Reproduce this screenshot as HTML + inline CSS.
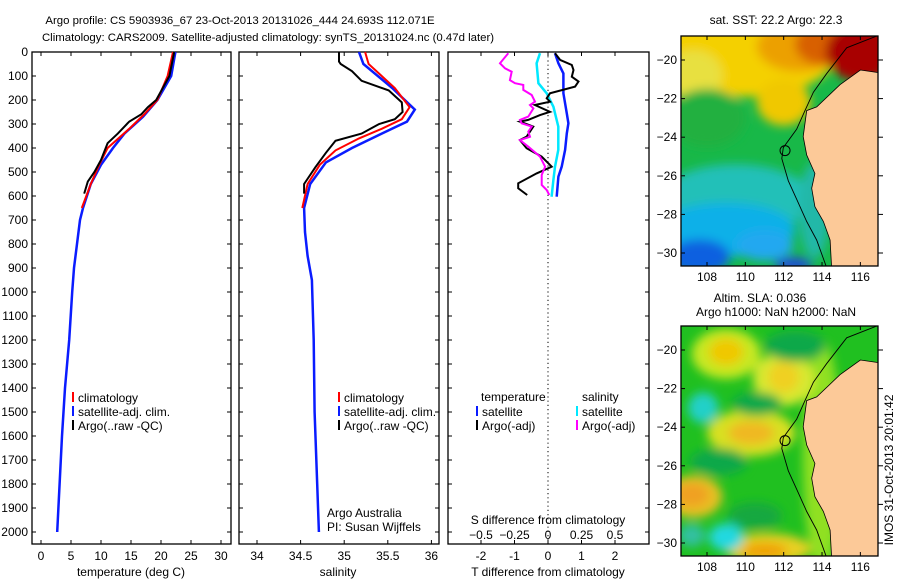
<!DOCTYPE html>
<html><head><meta charset="utf-8"><style>
html,body{margin:0;padding:0;background:#fff;}
svg{display:block;font-family:"Liberation Sans",sans-serif;}
</style></head><body>
<svg id="c" width="900" height="580" viewBox="0 0 900 580" xmlns="http://www.w3.org/2000/svg">
<defs>
<filter id="bl" x="-20%" y="-20%" width="140%" height="140%"><feGaussianBlur stdDeviation="5"/></filter>
<clipPath id="cm1"><rect x="681" y="36" width="197" height="230"/></clipPath>
<clipPath id="cm2"><rect x="681" y="326" width="197" height="230"/></clipPath>
</defs>
<text x="240" y="24" font-size="11.4" text-anchor="middle">Argo profile: CS 5903936_67 23-Oct-2013 20131026_444 24.693S 112.071E</text>
<text x="268" y="41" font-size="11.4" text-anchor="middle">Climatology: CARS2009. Satellite-adjusted climatology: synTS_20131024.nc (0.47d later)</text>
<text x="776" y="24" font-size="12" text-anchor="middle">sat. SST: 22.2 Argo: 22.3</text>
<text x="760" y="302" font-size="12" text-anchor="middle">Altim. SLA: 0.036</text>
<text x="776" y="316" font-size="12" text-anchor="middle">Argo h1000: NaN h2000: NaN</text>
<text transform="translate(893,470) rotate(-90)" font-size="12" text-anchor="middle">IMOS 31-Oct-2013 20:01:42</text>
<g id="g"></g>
</svg>
<script>
// ---- data ----
const depthTicks=[0,100,200,300,400,500,600,700,800,900,1000,1100,1200,1300,1400,1500,1600,1700,1800,1900,2000];
const tempTicks=[0,5,10,15,20,25,30];
const salTicks=[34,34.5,35,35.5,36];
const tdiffTicks=[-2,-1,0,1,2];
const sdiffTicks=[-0.5,-0.25,0,0.25,0.5];
const tempClimDepth=[0,100,200,260,320,400,470,550,650];
const tempClim=[22,21.1,19.4,17.2,14.7,11.1,9.7,8.3,6.8];
const tempSatDepth=[0,100,200,270,340,400,470,550,650,700,800,900,1000,1200,1400,1600,1800,2000];
const tempSat=[22.4,21.7,19.4,17,13.9,12,10,8.3,7,6.5,6,5.5,5.2,4.7,4.0,3.5,3.1,2.7];
const tempArgoDepth=[0,100,200,230,260,290,340,380,450,500,540,590];
const tempArgo=[22.2,21.4,19.2,17.8,16.7,14.7,12.8,11.1,10,8.9,7.8,7.2];
const salClimDepth=[0,50,150,230,280,320,360,410,470,550,650];
const salClim=[35.24,35.28,35.58,35.75,35.66,35.43,35.17,34.9,34.72,34.58,34.52];
const salSatDepth=[0,50,150,240,290,340,400,460,550,650,750,850,950,1200,1500,1800,2000];
const salSat=[35.17,35.22,35.55,35.81,35.72,35.43,35.09,34.79,34.61,34.54,34.55,34.58,34.63,34.65,34.66,34.69,34.71];
const salArgoDepth=[0,40,50,80,120,160,210,250,280,300,340,370,420,480,550,590];
const salArgo=[34.94,34.94,34.96,35.09,35.2,35.51,35.66,35.67,35.58,35.4,35.2,34.9,34.79,34.67,34.54,34.54];
const tdSatDepth=[5,47,89,172,256,297,339,408,478,519,603];
const tdSat=[0.21,0.31,0.46,0.46,0.56,0.61,0.56,0.51,0.41,0.31,0.26];
const sdSatDepth=[5,47,130,172,228,311,408,478,533,603];
const sdSat=[-0.06,-0.085,-0.072,-0.01,0.04,0.077,0.077,0.052,0.04,0.027];
const tdArgoDepth=[5,33,54,75,103,123,144,172,193,207,221,249,263,283,290,311,353,367,401,436,478,506,547,568,596];
const tdArgo=[0.21,0.36,0.71,0.76,0.71,0.91,0.81,0.06,-0.04,0.06,-0.39,0.06,-0.24,-0.59,-0.84,-0.44,-0.64,-0.84,-0.64,-0.19,0.11,-0.34,-0.89,-0.89,-0.62];
const sdArgoDepth=[5,47,68,82,117,130,137,158,179,207,221,235,269,283,297,311,332,353,367,394,436,478,512,554,575,596];
const sdArgo=[-0.296,-0.358,-0.321,-0.271,-0.284,-0.246,-0.184,-0.184,-0.122,-0.097,-0.134,-0.109,-0.147,-0.209,-0.197,-0.122,-0.147,-0.134,-0.209,-0.147,-0.06,-0.022,-0.047,-0.047,-0.01,0.01];
const lonTicks=[108,110,112,114,116];
const latTicks=[-20,-22,-24,-26,-28,-30];
const argoLon=112.071, argoLat=-24.693;

// ---- scales ----
const P1={x0:32,x1:231}, P2={x0:239,x1:439}, P3={x0:448,x1:649}, Y0=52, Y1=544;
const dy=d=>52+0.24*d;
const tx=t=>41+6*t;
const sx=s=>257+87.2*(s-34);
const tdx=t=>548+33.5*t;
const sdx=s=>548+134*s;
const lonX=l=>707+(l-108)*19.17;
const latY=(l,off)=>60+(-20-l)*19.3+off;

const NS='http://www.w3.org/2000/svg';
const G=document.getElementById('g');
function mk(tag,at,parent){const e=document.createElementNS(NS,tag);for(const k in at)e.setAttribute(k,at[k]);(parent||G).appendChild(e);return e;}
function txt(x,y,s,at){const e=mk('text',Object.assign({x:x,y:y,'font-size':12},at||{}));e.textContent=s;return e;}

// ---- panels ----
[[P1,'temperature-panel'],[P2,'salinity-panel'],[P3,'difference-panel']].forEach(([p,n])=>{
  const r=mk('rect',{x:p.x0,y:Y0,width:p.x1-p.x0,height:Y1-Y0,fill:'none',stroke:'#000','stroke-width':1.3});
  
  
  depthTicks.forEach(d=>{
    mk('line',{x1:p.x0,x2:p.x0+4,y1:dy(d),y2:dy(d),stroke:'#000'});
    mk('line',{x1:p.x1,x2:p.x1-4,y1:dy(d),y2:dy(d),stroke:'#000'});
  });
});
depthTicks.forEach(d=>{
  const t=txt(28,dy(d)+4,String(d),{'text-anchor':'end'});
  
  
});
function xticks(vals,f,labY,fmt){vals.forEach(v=>{const x=f(v);
  mk('line',{x1:x,x2:x,y1:Y0,y2:Y0+4,stroke:'#000'});
  mk('line',{x1:x,x2:x,y1:Y1,y2:Y1-4,stroke:'#000'});
  if(labY){const t=txt(x,labY,fmt?fmt(v):String(v),{'text-anchor':'middle'});
  
  }});}
xticks(tempTicks,tx,560);
xticks(salTicks,sx,560);
xticks(tdiffTicks,tdx,560);
sdiffTicks.forEach(v=>{const t=txt(sdx(v),539,String(v).replace('-','\u2212'),{'text-anchor':'middle'});
  
  });
[[131,'temperature (deg C)','temperature-axis-title'],[338,'salinity','salinity-axis-title'],[548,'T difference from climatology','t-diff-axis-title']].forEach(([x,s,n])=>{
  const t=txt(x,576,s,{'text-anchor':'middle'});
  
  });
{const t=txt(548,524,'S difference from climatology',{'text-anchor':'middle'});
 
 }
{const l=mk('line',{x1:548,x2:548,y1:Y0,y2:Y1,stroke:'#000','stroke-dasharray':'1.2,3'});
 
 }

function series(ds,vs,fx,color,w,name){
  const pts=ds.map((d,i)=>fx(vs[i]).toFixed(1)+','+dy(d).toFixed(1)).join(' ');
  const e=mk('polyline',{points:pts,fill:'none',stroke:color,'stroke-width':w,'stroke-linejoin':'miter'});
  
  
}
series(tempSatDepth,tempSat,tx,'#0a1cff',2.5,'temp-satellite-line');
series(tempClimDepth,tempClim,tx,'#ff0000',2,'temp-climatology-line');
series(tempArgoDepth,tempArgo,tx,'#000',2,'temp-argo-line');
series(salSatDepth,salSat,sx,'#0a1cff',2.5,'sal-satellite-line');
series(salClimDepth,salClim,sx,'#ff0000',2,'sal-climatology-line');
series(salArgoDepth,salArgo,sx,'#000',2,'sal-argo-line');
series(tdSatDepth,tdSat,tdx,'#0a1cff',2.5,'tdiff-satellite-line');
series(sdSatDepth,sdSat,sdx,'#00e8ff',2.5,'sdiff-satellite-line');
series(tdArgoDepth,tdArgo,tdx,'#000',2,'tdiff-argo-line');
series(sdArgoDepth,sdArgo,sdx,'#ff00ff',2,'sdiff-argo-line');

function leg(x,y,color,s,name){
  const m=mk('rect',{x:x-6,y:y-10,width:2,height:10,fill:color});
  
  
  const t=txt(x,y,s,{});
  
  
}
leg(78,402,'#ff0000','climatology','legend-climatology');
leg(78,416,'#0a1cff','satellite-adj. clim.','legend-satellite');
leg(78,430,'#000','Argo(..raw -QC)','legend-argo');
leg(344,402,'#ff0000','climatology','legend2-climatology');
leg(344,416,'#0a1cff','satellite-adj. clim.','legend2-satellite');
leg(344,430,'#000','Argo(..raw -QC)','legend2-argo');
{const t=txt(481,401,'temperature',{});}
{const t=txt(582,401,'salinity',{});}
leg(482,416,'#0a1cff','satellite','legend-t-satellite');
leg(482,430,'#000','Argo(-adj)','legend-t-argo');
leg(582,416,'#00e8ff','satellite','legend-s-satellite');
leg(582,430,'#ff00ff','Argo(-adj)','legend-s-argo');
{const t=txt(327,517,'Argo Australia',{});}
{const t=txt(327,531,'PI: Susan Wijffels',{});}

// ---- maps ----
const land=[[116.9,-20.65],[116,-20.52],[114.94,-21.28],[113.72,-22.43],[113.2,-22.62],[113.02,-23.97],[113.2,-24.92],[113.63,-25.88],[113.46,-26.65],[113.63,-27.6],[114.07,-28.37],[114.42,-29.33],[114.5,-30.75],[117,-30.75],[117,-20.65]];
const iso=[[116.9,-18.74],[115.29,-19.37],[114.24,-20.71],[113.55,-21.67],[113.11,-22.62],[112.68,-23.58],[111.98,-24.54],[111.9,-25.11],[112.24,-26.26],[112.68,-27.22],[113.2,-28.37],[113.72,-29.33],[114.24,-30.75]];
const blobs1=[[110,-19.6,4.8,2.3,'#f4d000'],[107.3,-20.8,1.5,1.3,'#e8e040'],[112,-22.2,1.4,1.2,'#f0c800'],[112.8,-19.3,2.2,1.3,'#eca000'],[114.2,-19.2,1.6,1.1,'#d86000'],[116,-19.6,1.8,1.5,'#a80000'],[109.5,-27.2,4,1.8,'#20c0b8'],[109,-28.8,3.6,1.4,'#10b0e8'],[107.6,-30.2,1.6,0.9,'#1060e0'],[112.5,-30.6,1,0.4,'#2050d0'],[111,-29.6,1.5,0.8,'#20a8f0'],[113.6,-27.8,0.8,2.5,'#20b8a8'],[108,-23,2,1.5,'#20b040']];
const blobs2=[[114,-25.5,1,6,'#90e020'],[109,-20.2,1.8,1.3,'#c8e820'],[109,-20.1,0.9,0.7,'#f0c800'],[112,-21.5,1.6,1.4,'#d8e830'],[112,-21.4,0.8,0.8,'#f0d020'],[110.3,-24.3,2.3,1.2,'#d8e020'],[110.3,-24.3,1.2,0.6,'#f0b820'],[107.3,-27.6,1.5,1.1,'#e8c020'],[107.2,-27.5,0.9,0.6,'#f0a020'],[111.2,-30.3,2.2,0.8,'#e8d020'],[111,-30.4,1.2,0.4,'#f0a000'],[107.8,-23,0.8,0.8,'#20d0c8'],[109,-29.7,0.9,0.7,'#20d8e0'],[107.2,-29.6,0.7,0.6,'#30c0a0'],[110.6,-22.8,1.3,0.6,'#10a848'],[108.6,-25.8,1.5,0.7,'#10a848'],[110.5,-28.6,1.4,0.7,'#18a840'],[112.6,-19.8,1.6,0.8,'#10a848']];
function map(off,blobs,base,clip,name){
  const g=mk('g',{'clip-path':'url(#'+clip+')'});
  
  
  mk('rect',{x:681,y:36+off,width:197,height:230,fill:base},g);
  const bg=mk('g',{filter:'url(#bl)'},g);
  blobs.forEach(b=>mk('ellipse',{cx:lonX(b[0]),cy:latY(b[1],off),rx:b[2]*19.17,ry:b[3]*19.3,fill:b[4]},bg));
  const lp=mk('polygon',{points:land.map(p=>lonX(p[0]).toFixed(1)+','+latY(p[1],off).toFixed(1)).join(' '),fill:'#fcc998',stroke:'#000','stroke-width':0.8},g);
  
  
  const il=mk('polyline',{points:iso.map(p=>lonX(p[0]).toFixed(1)+','+latY(p[1],off).toFixed(1)).join(' '),fill:'none',stroke:'#000','stroke-width':0.9},g);
  
  
  const c=mk('circle',{cx:lonX(argoLon),cy:latY(argoLat,off),r:5,fill:'none',stroke:'#000','stroke-width':1});
  
  
  mk('rect',{x:681,y:36+off,width:197,height:230,fill:'none',stroke:'#000','stroke-width':1.3});
  lonTicks.forEach(l=>{const x=lonX(l);
    mk('line',{x1:x,x2:x,y1:36+off,y2:40+off,stroke:'#000'});
    mk('line',{x1:x,x2:x,y1:266+off,y2:262+off,stroke:'#000'});
    const t=txt(x,281+off,String(l),{'text-anchor':'middle'});
    
    });
  latTicks.forEach(l=>{const y=latY(l,off);
    mk('line',{x1:681,x2:685,y1:y,y2:y,stroke:'#000'});
    mk('line',{x1:878,x2:883,y1:y,y2:y,stroke:'#000'});
    const t=txt(677,y+4,String(l).replace('-','\u2212'),{'text-anchor':'end'});
    
    });
}
map(0,blobs1,'#18b848','cm1','sst-map');
map(290,blobs2,'#20c020','cm2','sla-map');
</script>
</body></html>
